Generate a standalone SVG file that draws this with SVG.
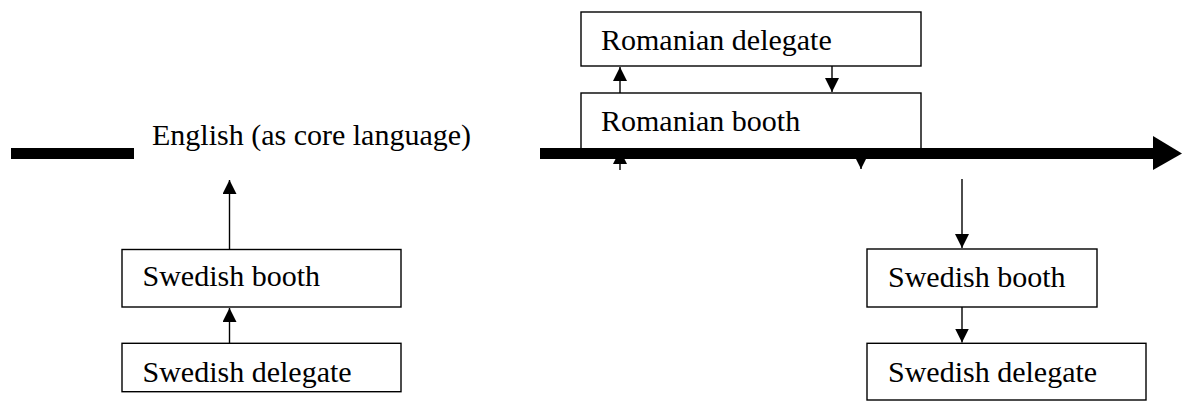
<svg xmlns="http://www.w3.org/2000/svg" width="1182" height="402" viewBox="0 0 1182 402">
<style>
.box{fill:#fff;stroke:#000;stroke-width:1.4}
.lbl{font-family:"Liberation Serif","Times New Roman",serif;font-size:30px;fill:#000}
.conn{stroke:#000;stroke-width:1.4;fill:none}
.bar{fill:#000}
</style>
<defs>
<marker id="ah" markerUnits="userSpaceOnUse" markerWidth="14" markerHeight="15" viewBox="0 0 14 15" refX="14" refY="7" orient="auto">
<path d="M0,0 L14,7 L0,14 Z" fill="#000"/>
</marker>
<clipPath id="clipSD"><rect x="122" y="343" width="279" height="48.5"/></clipPath>
</defs>
<rect width="1182" height="402" fill="#fff"/>
<g id="connectors">
<line class="conn" x1="620" y1="93" x2="620" y2="67" marker-end="url(#ah)"/>
<line class="conn" x1="832" y1="66" x2="832" y2="92" marker-end="url(#ah)"/>
<line class="conn" x1="620" y1="170" x2="620" y2="150" marker-end="url(#ah)"/>
<line class="conn" x1="861" y1="150" x2="861" y2="169" marker-end="url(#ah)"/>
<line class="conn" x1="229.5" y1="249" x2="229.5" y2="180" marker-end="url(#ah)"/>
<line class="conn" x1="229.5" y1="343" x2="229.5" y2="308" marker-end="url(#ah)"/>
<line class="conn" x1="962" y1="179" x2="962" y2="248" marker-end="url(#ah)"/>
<line class="conn" x1="962" y1="307" x2="962" y2="342.5" marker-end="url(#ah)"/>
</g>
<g id="romanian-delegate">
<rect class="box" x="581" y="12" width="340" height="54"/>
<text class="lbl" x="601" y="50">Romanian delegate</text>
</g>
<g id="romanian-booth">
<rect class="box" x="581" y="93" width="340" height="60"/>
<text class="lbl" x="601" y="131">Romanian booth</text>
</g>
<g id="english-line">
<rect class="bar" x="11" y="148" width="123" height="11"/>
<text class="lbl" x="152" y="145">English (as core language)</text>
<rect class="bar" x="540" y="148" width="614" height="11"/>
<path class="bar" d="M1153,136 L1182,153.5 L1153,170 Z"/>
</g>
<g id="swedish-booth-left">
<rect class="box" x="122" y="249.5" width="279" height="57.5"/>
<text class="lbl" x="142.5" y="286">Swedish booth</text>
</g>
<g id="swedish-delegate-left">
<rect class="box" x="122" y="343.3" width="279" height="48.4"/>
<text class="lbl" x="142.5" y="382" clip-path="url(#clipSD)">Swedish delegate</text>
</g>
<g id="swedish-booth-right">
<rect class="box" x="867" y="249" width="230" height="58"/>
<text class="lbl" x="888" y="287">Swedish booth</text>
</g>
<g id="swedish-delegate-right">
<rect class="box" x="867" y="343.3" width="279" height="56.7"/>
<text class="lbl" x="888" y="382">Swedish delegate</text>
</g>
</svg>
